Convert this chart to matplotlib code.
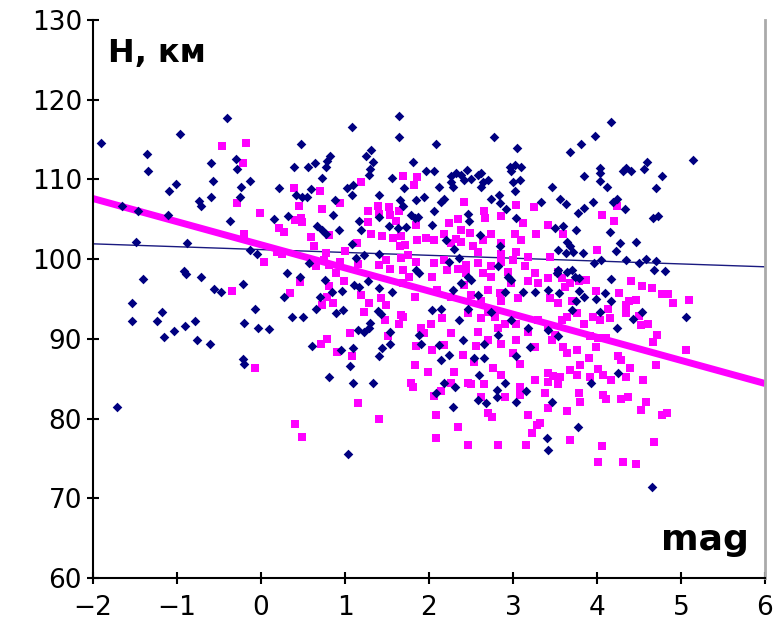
import matplotlib
matplotlib.use("Agg")
import matplotlib.pyplot as plt
import numpy as np

# ---- data: navy diamonds (series 1) ----
navy_x = [
    -1.90, -0.40, -0.97, -1.36, -1.34, -0.59, -0.30, -0.28, -0.57, -0.13, -1.01, -1.09, -0.59, -0.24,
    -0.25, -0.74, -0.72, -1.66, -1.46, -1.11, -0.37, -1.49, -0.88,
    -0.13, -1.41, -0.92, -0.89, -0.71, -0.56, -0.48, -0.21, -1.53, -1.18, -1.53, -1.24, -0.78, -0.20,
    -0.90, -1.03, -1.15, -0.76, -0.61, -0.22, -0.20, -1.72,
    1.64, 1.64, 1.08, 0.48, 1.31, 1.25, 1.33, 0.82, 0.79, 0.64, 0.39, 0.56, 0.77, 1.30, 1.29, 0.73,
    1.56, 0.22, 0.59, 1.02, 1.09, 1.70, 0.42, 0.49, 0.55, 0.88, 1.08, 1.41, 1.66, 1.69, 0.86, 0.16,
    0.32, 0.67, 0.73, 0.77, 0.93, 1.17, 1.19, 1.40, 1.52, 1.63,
    -0.05, 0.31, 0.47, 0.57, 1.08, 1.13, 1.23, 1.41, 0.76, 0.84, 0.97, 1.11, 1.17, 1.27, 1.40, 1.56,
    0.27, 0.70, 0.65, -0.07, 0.98, 0.89, 1.39, 1.43, 0.37, 0.50, -0.03, 0.10, 1.15, 1.23, 1.30, 1.29,
    1.53, 0.61, 0.95, 1.10, 1.44, 1.54, 1.40, 1.06, 0.81, 1.33, 1.10, 1.04,
    2.08, 2.77, 3.05, 1.81, 1.97, 2.06, 2.26, 2.32, 2.38, 2.45, 2.50, 2.26, 2.29, 2.58, 2.62, 2.64,
    2.62, 2.70, 2.42, 2.96, 3.02, 3.10, 2.98, 3.00, 3.08, 3.02, 2.12, 3.46, 3.56, 1.84, 1.94, 2.18,
    2.14, 2.74, 2.83, 2.85, 3.33, 2.06, 2.92, 1.79, 1.83, 1.87, 2.46, 2.48, 3.04, 2.04, 1.73, 3.50,
    2.61, 2.20,
    1.84, 1.88, 2.24, 2.36, 2.46, 2.38, 2.50, 2.82, 2.94, 2.98, 3.26, 3.42, 3.52, 3.54, 2.28, 2.58,
    2.90, 3.12, 2.04, 2.14, 2.36, 2.46, 2.74, 2.98, 3.18, 3.42, 1.88, 1.90, 2.12, 2.40, 2.66, 2.82,
    3.20, 3.04, 2.14, 2.24, 2.54, 2.66, 2.60, 2.18, 2.90, 2.30, 2.84,
    2.31, 2.28, 2.58, 2.68, 2.81, 2.81, 3.04, 3.15, 3.46, 3.41, 3.42, 2.08,
    4.17, 3.98, 3.81, 3.68, 5.14, 4.60, 4.56, 4.77, 4.70, 4.03, 4.04, 3.84, 4.31, 4.40, 4.35, 4.03,
    4.12, 3.63, 3.95, 3.77, 3.85, 4.24, 4.19, 4.33, 4.67, 4.73, 3.60, 3.75, 4.16, 4.27, 4.46,
    3.64, 3.68, 3.63, 3.72, 3.83, 4.23, 3.97, 4.05, 4.35, 4.50, 4.58, 4.70, 4.68, 4.81, 3.54, 3.64,
    3.70, 3.74, 3.79, 4.17, 3.55, 3.79, 3.85, 3.99, 4.09, 3.75, 4.17, 3.70, 4.03, 4.43, 4.53, 5.06,
    4.24, 3.54, 4.25, 3.93, 3.77, 4.65,
]
navy_y = [
    114.6, 117.7, 115.7, 113.2, 111.1, 112.0, 112.6, 111.3, 109.8, 109.8, 109.4, 108.5, 107.8, 109.0,
    107.8, 107.3, 106.7, 106.7, 106.0, 105.5, 104.8, 102.2, 102.0,
    101.1, 97.5, 98.5, 98.1, 97.8, 96.2, 95.9, 96.9, 94.5, 93.4, 92.2, 92.3, 92.3, 92.0,
    91.6, 91.0, 90.2, 89.9, 89.4, 87.5, 86.9, 81.5,
    117.9, 115.3, 116.6, 114.4, 113.7, 112.9, 112.2, 112.9, 112.3, 112.0, 111.6, 111.6, 111.6, 111.3, 110.6, 110.2,
    110.2, 108.9, 108.8, 108.9, 109.3, 108.9, 108.1, 107.8, 107.8, 107.4, 108.0, 108.0, 107.4, 106.7, 105.6, 105.0,
    105.4, 104.2, 103.6, 103.2, 103.7, 104.8, 103.7, 105.3, 104.1, 103.9,
    100.7, 98.3, 97.8, 99.5, 101.9, 100.2, 100.5, 100.7, 97.4, 95.9, 96.0, 96.8, 96.5, 97.3, 96.4, 95.9,
    95.3, 95.2, 93.7, 93.7, 93.6, 93.2, 93.5, 93.1, 92.7, 92.7, 91.3, 91.2, 91.1, 90.8, 92.0, 91.3,
    90.9, 89.1, 88.6, 88.8, 88.9, 89.4, 87.8, 86.6, 85.2, 84.4, 84.5, 75.6,
    114.4, 115.3, 114.0, 112.2, 111.0, 111.0, 110.4, 110.8, 110.6, 111.2, 110.1, 109.7, 109.0, 110.6, 110.8, 109.7,
    109.1, 109.9, 109.9, 111.6, 111.8, 111.5, 111.1, 109.7, 109.9, 108.5, 109.0, 109.1, 107.5, 107.4, 107.8, 107.6,
    107.2, 107.6, 108.0, 107.0, 107.2, 106.0, 106.3, 105.5, 105.1, 105.3, 105.7, 104.8, 105.2, 104.3, 104.0, 103.9,
    103.0, 102.4,
    98.6, 98.2, 99.7, 100.1, 97.8, 97.0, 97.4, 99.1, 97.8, 97.4, 95.9, 96.1, 98.2, 101.1, 96.1, 95.5,
    95.9, 95.9, 93.6, 93.8, 92.4, 93.8, 93.4, 92.4, 91.3, 91.1, 90.5, 89.4, 89.2, 89.9, 89.4, 90.5,
    89.0, 87.8, 87.3, 88.0, 87.6, 87.6, 85.5, 84.4, 84.4, 101.3, 101.6,
    83.9, 81.5, 82.3, 81.9, 83.6, 82.7, 82.1, 83.5, 82.1, 77.5, 76.1, 83.2,
    117.2, 115.5, 114.4, 113.5, 112.4, 112.2, 111.3, 110.4, 108.9, 111.4, 110.8, 110.4, 111.0, 111.1, 111.4, 109.8,
    109.1, 106.9, 107.2, 105.8, 106.4, 107.6, 107.2, 106.3, 105.2, 105.4, 104.1, 103.7, 103.4, 102.0, 102.2,
    102.2, 101.6, 100.8, 100.9, 100.8, 101.0, 99.5, 99.9, 99.9, 99.5, 100.0, 99.8, 98.6, 98.5, 98.6, 98.4,
    98.6, 97.8, 97.6, 97.5, 95.7, 96.0, 95.3, 95.0, 95.8, 94.7, 94.7, 93.6, 93.4, 92.5, 93.4, 92.7,
    91.4, 90.3, 85.7, 84.4, 78.9, 71.4,
]

# ---- data: magenta squares (series 2) ----
pink_x = [
    -0.46, -0.18, -0.21, -0.28, -0.20, -0.34,
    0.39, 0.70, 1.19, 1.69, 0.94, 0.45, 0.73, -0.01, 1.27, 1.39, 1.52, 1.41, 1.53, 1.64, 0.41, 0.48,
    0.49, 1.27, 1.61, 0.22, 0.27, 0.59, 0.81, 1.31, 1.44, 1.57, 1.67, 1.14,
    0.03, 0.63, 0.77, 0.75, 0.81, 0.89, 0.94, 0.64, 0.66, 1.00, 1.16, 0.19, 0.25, 1.41, 1.49, 1.53,
    1.66, 1.67, 1.69, 0.47, 0.35, 0.81, 0.99, 0.79, 0.86, 0.73, 1.19, 1.29, 1.23, 1.43, 1.49, 1.48,
    1.67, 1.64, 1.06, 1.51, 0.79, 0.71, 0.91, 1.08, -0.07,
    1.16, 1.41, 0.41, 0.49,
    1.86, 1.82, 2.42, 2.65, 2.67, 3.04, 3.25, 2.86, 2.35, 2.24, 3.12, 3.42, 1.84, 2.38, 2.49, 2.18,
    2.74, 3.02, 3.10, 3.27, 1.96, 2.06, 1.86, 2.32, 2.38, 2.86, 2.64,
    1.71, 2.26, 2.52, 2.58, 2.86, 3.04, 3.18, 3.44, 1.75,
    1.84, 2.06, 2.18, 2.34, 2.44, 2.58, 2.74, 2.86, 3.00, 1.76, 2.04, 2.22, 2.44, 2.64, 2.74, 2.94,
    3.14, 3.26, 3.42, 3.54,
    1.69, 1.83, 2.10, 2.26, 2.42, 2.50, 2.70, 2.84, 2.98, 3.06, 3.18, 3.30, 3.44, 3.54, 2.62, 2.86,
    1.69, 1.90, 2.02, 2.16, 2.26, 2.46, 2.62, 2.70, 2.78, 2.90, 3.04, 3.18, 3.30, 3.42, 3.50, 1.94,
    2.58, 2.82,
    1.84, 2.04, 2.18, 2.40, 2.56, 2.70, 2.86, 3.00, 3.04, 3.26, 3.46, 1.83, 1.99, 2.30, 2.54, 2.76,
    2.86, 3.08, 3.42, 3.48, 2.46, 1.79, 2.26, 3.26,
    1.81, 2.14, 2.06, 2.62, 2.90, 2.66, 2.50, 3.08, 3.08, 3.38, 3.54, 3.42, 2.08, 2.70, 2.75, 3.18,
    3.32, 3.28, 3.23, 2.34, 2.08, 2.47, 2.82, 3.16, 3.42,
    4.06, 4.20, 4.24, 3.60,
    4.00, 4.41, 4.54, 4.65, 4.26, 3.99, 4.77, 4.85, 4.91, 5.10, 4.38, 4.47, 4.34, 4.35, 4.50, 4.52,
    4.61, 4.13, 4.15, 4.03, 3.95, 3.84, 4.71, 4.67, 5.06, 3.87, 3.78, 3.68, 3.58, 3.62, 3.70, 3.64,
    3.76, 3.58, 3.92, 4.01, 4.11, 3.99, 3.60, 3.64, 3.76, 3.90, 4.25, 4.29, 4.39, 4.70, 3.80, 3.68,
    4.01, 4.07, 4.35, 4.55, 3.76, 3.92, 3.56, 4.17,
    3.79, 3.80, 4.07, 4.11, 4.29, 4.37, 4.58, 4.52, 3.64, 4.77, 4.83, 3.68, 4.06, 4.68, 4.01, 4.31,
    4.47,
]
pink_y = [
    114.2, 114.6, 112.0, 107.0, 103.2, 96.0,
    108.9, 108.5, 109.7, 110.4, 107.1, 106.7, 106.3, 105.8, 106.1, 106.7, 106.5, 105.7, 105.5, 106.0, 104.9, 105.2,
    104.6, 104.6, 104.8, 103.9, 103.4, 102.8, 103.0, 103.2, 102.9, 102.6, 102.9, 102.0,
    99.7, 101.6, 100.8, 99.9, 99.3, 98.3, 99.7, 99.5, 99.1, 101.0, 99.4, 100.9, 100.7, 99.3, 99.9, 98.8,
    101.7, 100.1, 98.6, 97.1, 95.8, 96.6, 97.3, 95.3, 94.5, 94.2, 95.5, 94.5, 93.4, 95.1, 94.2, 92.4,
    93.0, 91.9, 90.7, 90.3, 90.0, 89.4, 88.3, 87.8, 86.4,
    81.9, 79.9, 79.3, 77.7,
    110.3, 109.3, 107.2, 106.1, 105.2, 106.8, 106.5, 105.4, 105.0, 104.5, 104.5, 104.3, 104.3, 103.7, 103.3, 103.1,
    103.2, 103.2, 102.4, 103.2, 102.7, 102.4, 102.4, 102.5, 102.1, 102.0, 102.4,
    101.8, 102.0, 101.6, 100.9, 100.7, 100.9, 100.3, 100.3, 100.5,
    99.7, 99.5, 99.9, 98.8, 99.3, 99.5, 99.1, 99.7, 99.9, 97.8, 97.8, 98.6, 98.2, 98.2, 97.8, 98.4,
    99.1, 98.2, 97.6, 98.4,
    97.0, 95.3, 96.1, 95.3, 96.8, 95.5, 96.1, 95.7, 97.0, 95.1, 97.2, 97.0, 95.1, 94.5, 94.7, 94.7,
    92.8, 91.3, 91.9, 92.6, 90.7, 93.2, 92.6, 93.4, 92.8, 91.9, 91.9, 90.9, 92.4, 91.5, 90.5, 90.7,
    90.9, 91.3,
    89.1, 88.6, 89.2, 88.0, 89.1, 89.9, 89.4, 88.2, 89.9, 89.0, 89.9, 86.7, 85.8, 85.9, 87.1, 86.3,
    85.5, 86.9, 85.7, 85.3, 84.5, 84.4, 84.4, 84.8,
    83.9, 83.5, 82.8, 82.7, 82.7, 84.3, 84.3, 84.0, 83.0, 83.2, 84.3, 81.3, 80.4, 80.7, 80.2, 80.4,
    79.5, 79.2, 78.2, 78.9, 77.5, 76.7, 76.7, 76.7, 84.6,
    105.6, 104.8, 106.7, 103.2,
    101.2, 97.3, 96.6, 96.4, 95.8, 96.0, 95.6, 95.6, 94.5, 94.9, 94.8, 94.9, 94.2, 93.2, 92.9, 91.8,
    91.9, 93.8, 92.6, 92.4, 92.7, 91.9, 90.5, 89.6, 88.6, 97.4, 97.2, 97.0, 97.6, 96.5, 94.7, 92.8,
    93.2, 92.4, 90.3, 90.1, 90.1, 89.0, 89.0, 88.2, 88.6, 87.6, 87.8, 87.3, 86.4, 86.7, 86.7, 86.1,
    86.2, 85.5, 85.2, 84.8, 85.5, 85.2, 85.2, 84.8,
    83.2, 82.1, 83.0, 82.4, 82.4, 82.7, 82.1, 81.1, 80.9, 80.4, 80.7, 77.3, 76.5, 77.1, 74.5, 74.5,
    74.3,
]

# ---- fitted trend lines (slope, intercept) ----
navy_fit = [-0.36, 101.2]
pink_fit = [-2.90, 101.8]

x_ticks = [-2, -1, 0, 1, 2, 3, 4, 5, 6]
y_ticks = [60, 70, 80, 90, 100, 110, 120, 130]
y_label = "H, км"
x_label = "mag"

NAVY = "#000080"
PINK = "#ff00ff"

fig = plt.figure(figsize=(7.75, 6.24), dpi=100)
ax = fig.add_axes([93 / 775, 46 / 624, 672 / 775, 558 / 624])

xl = np.array([x_ticks[0], x_ticks[-1]], dtype=float)
ax.plot(xl, navy_fit[0] * xl + navy_fit[1], color="#1a1a80", lw=1.0, zorder=2)
ax.plot(xl, pink_fit[0] * xl + pink_fit[1], color=PINK, lw=5.0, zorder=2,
        solid_capstyle="butt")

ax.scatter(pink_x, pink_y, marker="s", s=32, color=PINK, linewidths=0, zorder=3)
ax.scatter(navy_x, navy_y, marker="D", s=24, color=NAVY, linewidths=0, zorder=4)

ax.set_xlim(x_ticks[0], x_ticks[-1])
ax.set_ylim(y_ticks[0], y_ticks[-1])
ax.set_xticks(x_ticks)
ax.set_yticks(y_ticks)
ax.set_xticklabels([f"\u2212{-t}" if t < 0 else str(t) for t in x_ticks])
ax.tick_params(axis="both", labelsize=19, direction="inout", length=8, width=1.5,
               color="black", pad=4)
ax.tick_params(axis="x", pad=8)

for s in ["left", "bottom"]:
    ax.spines[s].set_linewidth(1.5)
    ax.spines[s].set_color("black")
ax.spines["top"].set_visible(False)
ax.spines["right"].set_color("#aaaaaa")
ax.spines["right"].set_linewidth(2)

ax.text(0.023, 0.94, y_label, transform=ax.transAxes, fontsize=23,
        fontweight="bold", ha="left", va="center")
ax.text(0.976, 0.068, x_label, transform=ax.transAxes, fontsize=26,
        fontweight="bold", ha="right", va="center")

fig.savefig("out.png", dpi=100)
